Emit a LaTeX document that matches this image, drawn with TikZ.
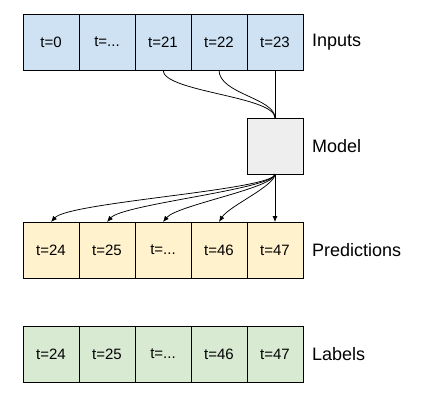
\documentclass[tikz,border=0pt]{standalone}
\usepackage{fontspec}
\setmainfont{Liberation Sans}
\usetikzlibrary{arrows.meta,positioning}
\definecolor{inblue}{HTML}{CFE2F3}
\definecolor{predyellow}{HTML}{FFF2CC}
\definecolor{labgreen}{HTML}{D9EAD3}
\definecolor{modelgray}{HTML}{EEEEEE}

\begin{document}
\begin{tikzpicture}[
    x=1pt, y=-1pt,
    font=\fontsize{15}{18}\selectfont,
    cell/.style={draw, minimum width=56pt, minimum height=56pt, inner sep=0pt, outer sep=0pt, line width=0.8pt},
    inp/.style={cell, fill=inblue},
    pred/.style={cell, fill=predyellow},
    lab/.style={cell, fill=labgreen},
    mdl/.style={cell, fill=modelgray},
    rowname/.style={anchor=west, inner sep=0pt, font=\fontsize{18}{22}\selectfont},
    wire/.style={line width=0.75pt},
    arrow/.style={wire, -{Latex[length=6pt,width=5pt]}}
]
\useasboundingbox (0,0) rectangle (448,402);

\node[inp] (in1) at (51,42) {t=0};
\node[inp] (in2) at (107,42) {t=...};
\node[inp] (in3) at (163,42) {t=21};
\node[inp] (in4) at (219,42) {t=22};
\node[inp] (in5) at (275,42) {t=23};
\node[rowname, right=9pt of in5] (inl) {Inputs};

\node[mdl] (md) at (275,146) {};
\node[rowname, right=9pt of md] (mdl) {Model};

\node[pred] (pr1) at (51,250) {t=24};
\node[pred] (pr2) at (107,250) {t=25};
\node[pred] (pr3) at (163,250) {t=...};
\node[pred] (pr4) at (219,250) {t=46};
\node[pred] (pr5) at (275,250) {t=47};
\node[rowname, right=9pt of pr5] (prl) {Predictions};

\node[lab] (lb1) at (51,354) {t=24};
\node[lab] (lb2) at (107,354) {t=25};
\node[lab] (lb3) at (163,354) {t=...};
\node[lab] (lb4) at (219,354) {t=46};
\node[lab] (lb5) at (275,354) {t=47};
\node[rowname, right=9pt of lb5] (lbl) {Labels};

\draw[wire] (in3.south) .. controls +(0,22) and +(0,-22) .. (md.north);
\draw[wire] (in4.south) .. controls +(0,24) and +(0,-20) .. (md.north);
\draw[wire] (in5.south) -- (md.north);

\draw[arrow] (md.south) .. controls +(0,16) and +(18,-20) .. (pr1.north);
\draw[arrow] (md.south) .. controls +(0,15) and +(16,-18) .. (pr2.north);
\draw[arrow] (md.south) .. controls +(0,14) and +(14,-17) .. (pr3.north);
\draw[arrow] (md.south) .. controls +(0,12) and +(10,-16) .. (pr4.north);
\draw[arrow] (md.south) -- (pr5.north);
\end{tikzpicture}
\end{document}
